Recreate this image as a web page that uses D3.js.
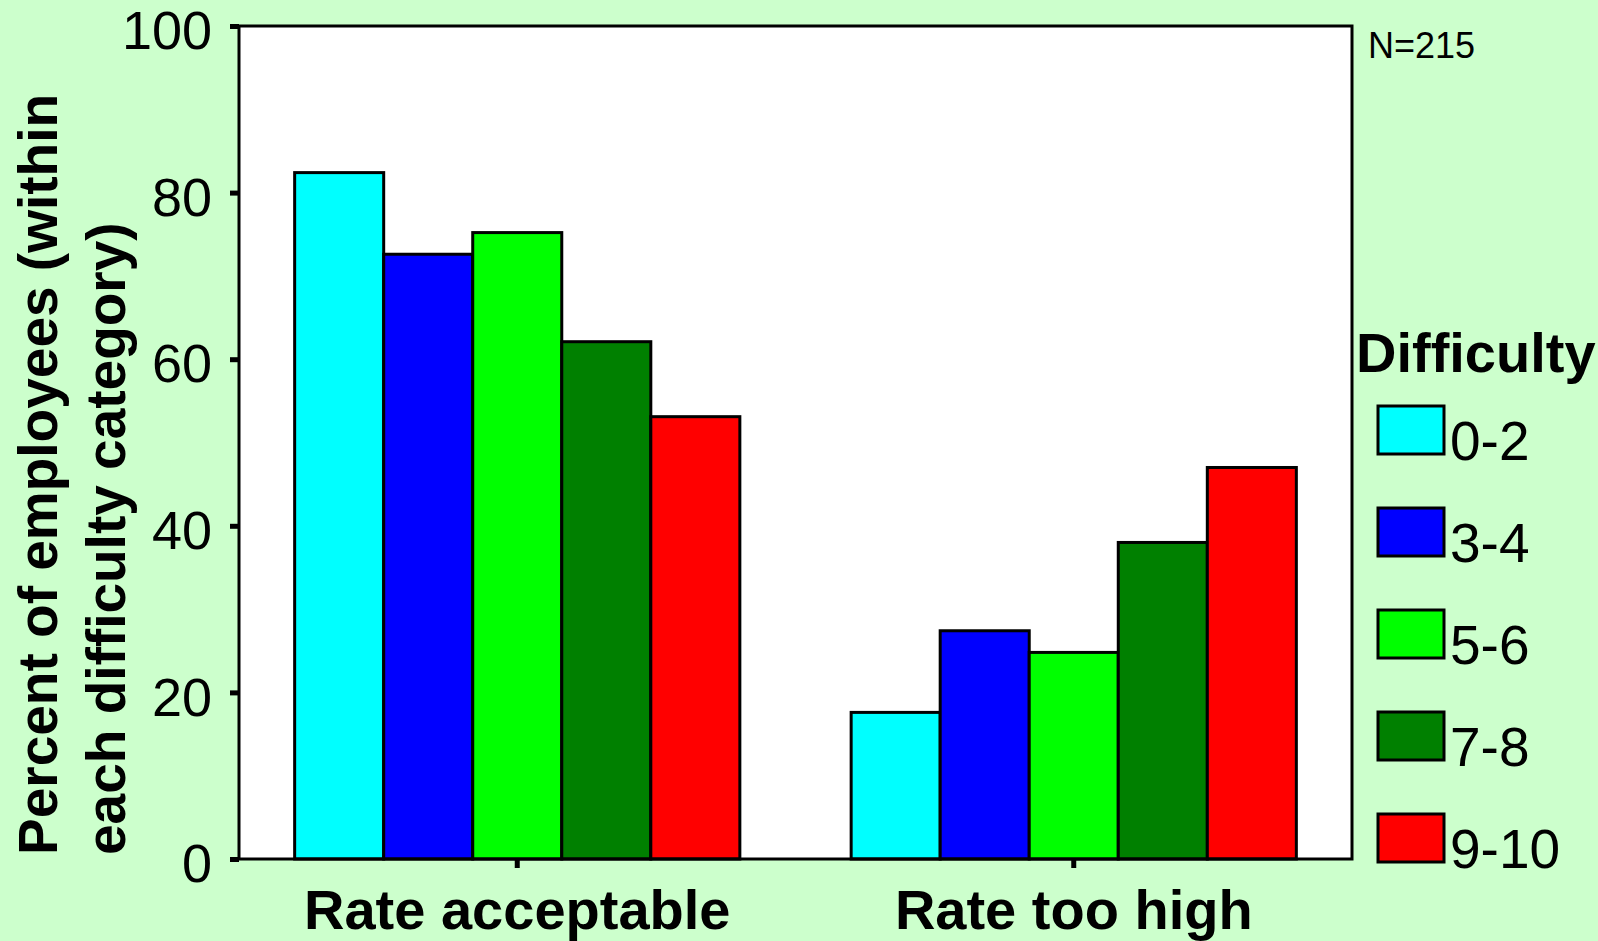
<!DOCTYPE html>
<html>
<head>
<meta charset="utf-8">
<script src="https://cdn.jsdelivr.net/npm/d3@7"></script>
<style>
  html, body { margin: 0; padding: 0; background: #CCFFCC; }
  svg { display: block; }
  text { font-family: "Liberation Sans", Arial, sans-serif; }
</style>
</head>
<body>
<svg id="chart" width="1598" height="941"></svg>
<script>
const categories = ["Rate acceptable", "Rate too high"];
const series = ["0-2", "3-4", "5-6", "7-8", "9-10"];
const colors = ["#00FFFF", "#0000FF", "#00FF00", "#008000", "#FF0000"];
// values[series][category]
const values = [
  [82.4, 17.6],
  [72.6, 27.4],
  [75.2, 24.8],
  [62.1, 38.0],
  [53.1, 47.0]
];
const yTicks = [0, 20, 40, 60, 80, 100];
const yTitleLines = ["Percent of employees (within", "each difficulty category)"];
const legendTitle = "Difficulty";
const noteText = "N=215";

const svg = d3.select("#chart");
const W = 1598, H = 941;
const m = { left: 239, right: 1352, top: 26, bottom: 859 };

svg.append("rect").attr("width", W).attr("height", H).attr("fill", "#CCFFCC");

const y = d3.scaleLinear().domain([0, 100]).range([m.bottom, m.top]);
const x0 = d3.scaleBand().domain(categories).range([m.left, m.right])
  .paddingInner(0.2).paddingOuter(0.1);
const x1 = d3.scaleBand().domain(series).range([0, x0.bandwidth()]).padding(0);

// plot area
svg.append("rect")
  .attr("x", m.left).attr("y", m.top)
  .attr("width", m.right - m.left).attr("height", m.bottom - m.top)
  .attr("fill", "#FFFFFF");

// bars
const data = [];
series.forEach((s, si) => categories.forEach((c, ci) => data.push({ s, c, v: values[si][ci], color: colors[si] })));
svg.append("g").selectAll("rect").data(data).join("rect")
  .attr("x", d => x0(d.c) + x1(d.s))
  .attr("y", d => y(d.v))
  .attr("width", x1.bandwidth())
  .attr("height", d => y(0) - y(d.v))
  .attr("fill", d => d.color)
  .attr("stroke", "#000")
  .attr("stroke-width", 3);

// plot border
svg.append("rect")
  .attr("x", m.left).attr("y", m.top)
  .attr("width", m.right - m.left).attr("height", m.bottom - m.top)
  .attr("fill", "none").attr("stroke", "#000").attr("stroke-width", 3);

// y axis
const yAxis = svg.append("g").attr("transform", `translate(${m.left},0)`)
  .call(d3.axisLeft(y).tickValues(yTicks).tickSize(9).tickPadding(18));
yAxis.select(".domain").remove();
yAxis.selectAll(".tick line").attr("stroke", "#000").attr("stroke-width", 5);
yAxis.selectAll(".tick text").attr("fill", "#000")
  .style("font-size", "54px").attr("dy", "0.42em");

// x axis
const xAxis = svg.append("g").attr("transform", `translate(0,${m.bottom})`)
  .call(d3.axisBottom(x0).tickSize(9).tickPadding(0));
xAxis.select(".domain").remove();
xAxis.selectAll(".tick line").attr("stroke", "#000").attr("stroke-width", 5);
xAxis.selectAll(".tick text").attr("fill", "#000")
  .style("font-size", "56px").style("font-weight", "bold")
  .attr("y", 70).attr("dy", 0);

// y title
const yt = svg.append("text")
  .attr("transform", "translate(57,855) rotate(-90)")
  .style("font-size", "55px").style("font-weight", "bold")
  .attr("text-anchor", "start");
yTitleLines.forEach((t, i) => yt.append("tspan").attr("x", 0).attr("y", i * 68).text(t));

// note
svg.append("text").attr("x", 1368).attr("y", 58)
  .style("font-size", "36px").attr("fill", "#000").text(noteText);

// legend
svg.append("text").attr("x", 1356).attr("y", 372)
  .style("font-size", "56px").style("font-weight", "bold").text(legendTitle);
const lg = svg.append("g").selectAll("g").data(series).join("g")
  .attr("transform", (d, i) => `translate(1378,${406 + i * 102})`);
lg.append("rect").attr("width", 66).attr("height", 48)
  .attr("fill", (d, i) => colors[i]).attr("stroke", "#000").attr("stroke-width", 3);
lg.append("text").attr("x", 72).attr("y", 54)
  .style("font-size", "55px").text(d => d);
</script>
</body>
</html>
